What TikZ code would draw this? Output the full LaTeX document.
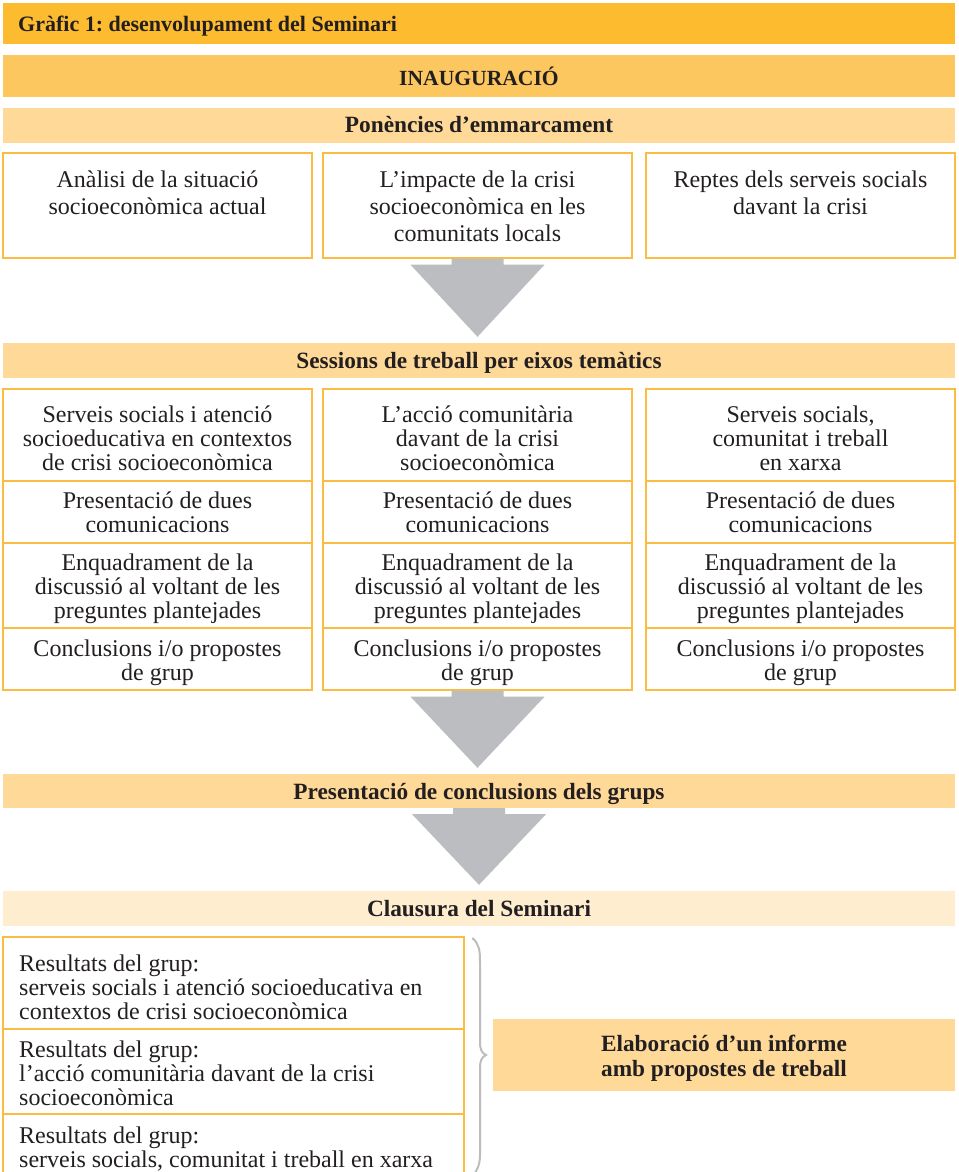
\documentclass[tikz,border=0pt]{standalone}
\usepackage{fontspec}
\setmainfont{Liberation Serif}
\frenchspacing
\usetikzlibrary{calc}
\definecolor{titlec}{HTML}{FDBB2F}
\definecolor{inauc}{HTML}{FDC75F}
\definecolor{barc}{HTML}{FED998}
\definecolor{clauc}{HTML}{FEEDCF}
\definecolor{boxc}{HTML}{FBBC42}
\definecolor{arrowc}{HTML}{BCBDC0}
\definecolor{txt}{HTML}{231F20}
\tikzset{
  bar/.style={fill=barc, draw=none, minimum width=952pt, inner sep=0pt, text height=15pt, text depth=0pt, font=\fontsize{23.3}{25}\selectfont\bfseries, text=txt},
  cellbox/.style={draw=boxc, line width=1.4pt, fill=white, minimum width=309pt, inner sep=0pt},
  celltext/.style={align=center, inner sep=0pt, anchor=north, font=\fontsize{24}{24.3}\selectfont, text=txt, execute at begin node={\rule{0pt}{20pt}}},
  toptext/.style={celltext, font=\fontsize{24}{27}\selectfont},
  rbox/.style={draw=boxc, line width=1.4pt, fill=white, minimum width=461pt, inner sep=0pt},
  rtext/.style={align=left, inner sep=0pt, anchor=north west, font=\fontsize{24}{24.3}\selectfont, text=txt, execute at begin node={\rule{0pt}{20pt}}},
  arrowfill/.style={fill=arrowc, draw=none}
}
\newcommand\grayarrow[2]{%
  \fill[arrowfill] ($(#1.south)+(-26,0)$) -- ($(#1.south)+(26,0)$) -- ($(#1.south)+(26,6)$)
   -- ($(#1.south)+(67,6)$) -- ($(#1.south |- #2.north)+(0,-6)$) -- ($(#1.south)+(-67,6)$)
   -- ($(#1.south)+(-26,6)$) -- cycle;}
\begin{document}
\begin{tikzpicture}[x=1pt,y=-1pt]
\useasboundingbox (0,0) rectangle (958,1172);
\fill[white] (0,0) rectangle (958,1172);
% title
\node[bar, fill=titlec, minimum height=41pt, text height=, text depth=] (titlebar) at (479,23.5) {};
\node[anchor=base west, inner sep=0pt, font=\fontsize{22}{24}\selectfont\bfseries, text=txt] (title) at (18,31.5) {Gràfic 1: desenvolupament del Seminari};
\node[bar, fill=inauc, minimum height=42pt, text height=18pt, font=\fontsize{21.6}{24}\selectfont\bfseries] (inau) at (479,76) {INAUGURACIÓ};
\node[bar, minimum height=35pt, text height=14pt] (pon) at (479,125.5) {Ponències d’emmarcament};
% top boxes
\node[cellbox, minimum height=105pt] (p1) at (157.5,205.5) {};
\node[cellbox, minimum height=105pt] (p2) at (477.5,205.5) {};
\node[cellbox, minimum height=105pt] (p3) at (800.5,205.5) {};
\node[toptext] (p1t) at (157.5,170.3) {Anàlisi de la situació\\socioeconòmica actual};
\node[toptext] (p2t) at (477.5,170.3) {L’impacte de la crisi\\socioeconòmica en les\\comunitats locals};
\node[toptext] (p3t) at (800.5,170.3) {Reptes dels serveis socials\\davant la crisi};
\node[bar, minimum height=35pt, text height=16pt] (sess) at (479,360.5) {Sessions de treball per eixos temàtics};
\grayarrow{p2}{sess}
% session columns
\foreach \c/\x in {1/157.5,2/477.5,3/800.5}{
  \node[cellbox, minimum height=92pt] (s\c a) at (\x,435) {};
  \node[cellbox, minimum height=62pt] (s\c b) at (\x,512) {};
  \node[cellbox, minimum height=85pt] (s\c c) at (\x,585.5) {};
  \node[cellbox, minimum height=62pt] (s\c d) at (\x,659) {};
  \node[celltext] (s\c bt) at (\x,491.3) {Presentació de dues\\comunicacions};
  \node[celltext] (s\c ct) at (\x,553.3) {Enquadrament de la\\discussió al voltant de les\\preguntes plantejades};
  \node[celltext] (s\c dt) at (\x,639.3) {Conclusions i/o propostes\\de grup};
}
\node[celltext] (s1at) at (157.5,405.3) {Serveis socials i atenció\\socioeducativa en contextos\\de crisi socioeconòmica};
\node[celltext] (s2at) at (477.5,405.3) {L’acció comunitària\\davant de la crisi\\socioeconòmica};
\node[celltext] (s3at) at (800.5,405.3) {Serveis socials,\\comunitat i treball\\en xarxa};
\node[bar, minimum height=34pt, text height=17pt] (pres) at (479,791) {Presentació de conclusions dels grups};
\grayarrow{s2d}{pres}
\node[bar, fill=clauc, minimum height=35pt] (clau) at (479,908.5) {Clausura del Seminari};
\grayarrow{pres}{clau}
% results
\node[rbox, minimum height=92pt] (r1) at (233.5,983) {};
\node[rbox, minimum height=85pt] (r2) at (233.5,1071.5) {};
\node[rbox, minimum height=64pt] (r3) at (233.5,1146) {};
\node[rtext] (r1t) at (19,954.3) {Resultats del grup:\\serveis socials i atenció socioeducativa en\\contextos de crisi socioeconòmica};
\node[rtext] (r2t) at (19,1040.3) {Resultats del grup:\\l’acció comunitària davant de la crisi\\socioeconòmica};
\node[rtext] (r3t) at (19,1126.3) {Resultats del grup:\\serveis socials, comunitat i treball en xarxa};
% brace
\draw[arrowc, line width=2pt, line cap=round] (r1.north east) ++(8,2) coordinate (b0)
  .. controls (479,944) and (480,950) .. (480,962) -- (480,1042)
  .. controls (480,1050) and (482,1053) .. (486,1055)
  .. controls (482,1057) and (480,1060) .. (480,1068) -- (480,1155)
  .. controls (480,1165) and (477,1170) .. (473,1176);
\node[bar, minimum width=462pt, minimum height=72pt, text height=, text depth=] (elab) at (724,1055) {};
\node[celltext, font=\fontsize{23.3}{25}\selectfont\bfseries] (elabt) at (724,1034.5) {Elaboració d’un informe\\amb propostes de treball};
\end{tikzpicture}
\end{document}
